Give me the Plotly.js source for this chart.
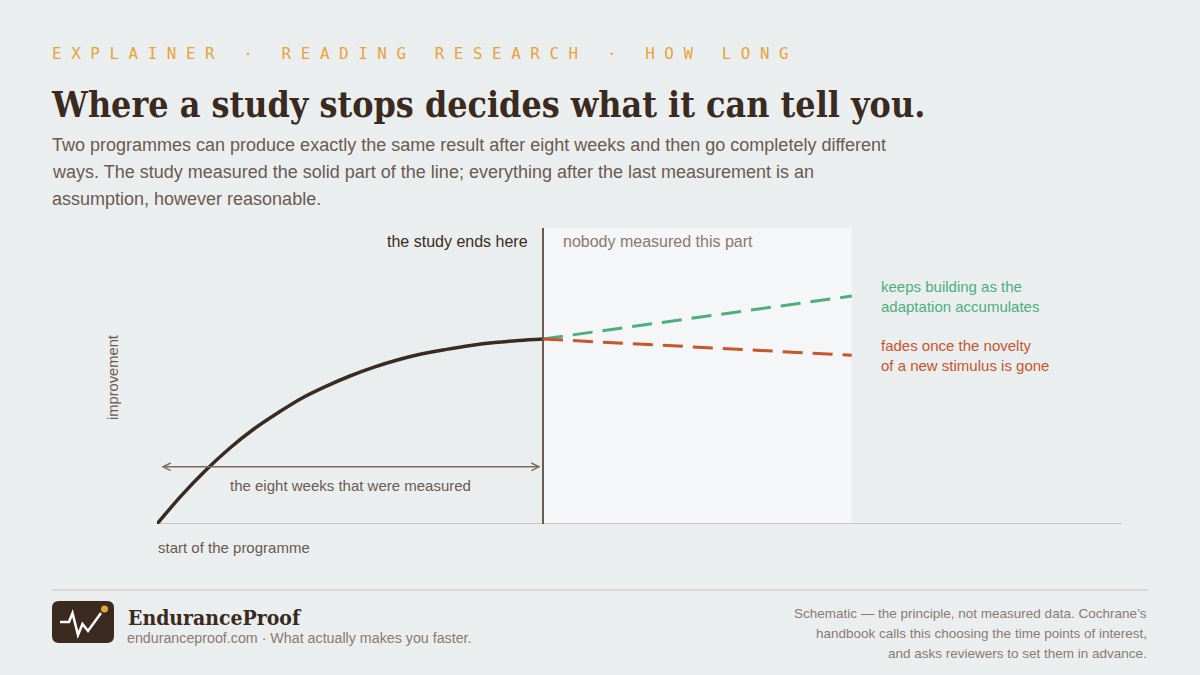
<!DOCTYPE html>
<html>
<head>
<meta charset="utf-8">
<script src="https://cdn.plot.ly/plotly-3.0.1.min.js"></script>
<style>
  html, body { margin: 0; padding: 0; background: #eaeeef; }
  #chart { width: 1200px; height: 675px; }
</style>
</head>
<body>
<div id="chart"></div>
<script>
// ---- data (schematic values) ----
const weeks = [0, 0.5, 1, 1.5, 2, 2.5, 3, 3.5, 4, 4.5, 5, 5.5, 6, 6.5, 7, 7.5, 8];
const measured = [0, 9.5, 18, 25.5, 32, 37.5, 42.5, 46.5, 50, 53, 55.5, 57.5, 59, 60.3, 61.3, 62, 62.5];
const projWeeks = [8, 14.4];
const keepsBuilding = [62.5, 77];
const fades = [62.5, 57];
const studyEnd = 8;
const unmeasuredEnd = 14.4;
const xRange = [0, 20];
const yRange = [0, 100];

const labels = {
  kicker: 'EXPLAINER · READING RESEARCH · HOW LONG',
  title: 'Where a study stops decides what it can tell you.',
  sub: [
    'Two programmes can produce exactly the same result after eight weeks and then go completely different',
    'ways. The study measured the solid part of the line; everything after the last measurement is an',
    'assumption, however reasonable.'
  ],
  ends: 'the study ends here',
  nobody: 'nobody measured this part',
  building: 'keeps building as the<br>adaptation accumulates',
  fading: 'fades once the novelty<br>of a new stimulus is gone',
  eight: 'the eight weeks that were measured',
  start: 'start of the programme',
  yTitle: 'improvement',
  brand: 'EnduranceProof',
  tagline: 'enduranceproof.com · What actually makes you faster.',
  note: [
    'Schematic — the principle, not measured data. Cochrane\u2019s',
    'handbook calls this choosing the time points of interest,',
    'and asks reviewers to set them in advance.'
  ]
};

// ---- layout geometry ----
const W = 1200, H = 675;
const M = { l: 157, r: 78, t: 228, b: 151 };
const PW = W - M.l - M.r, PH = H - M.t - M.b;
const px = x => (x - M.l) / PW;
const py = y => 1 - (y - M.t) / PH;

const SANS = 'Liberation Sans, Arial, sans-serif';
const SERIF = 'DejaVu Serif Condensed, DejaVu Serif, serif';
const MONO = 'DejaVu Sans Mono, monospace';
const MID = '#6b5a4e';
const LIGHT = '#8a7a6e';
const GREEN = '#4caf7d';
const RUST = '#c8552b';

const spaced = s => s.split('').join(' ');

const traces = [
  { x: weeks, y: measured, mode: 'lines', line: { color: '#3a2b22', width: 3.5, shape: 'spline' },
    cliponaxis: false, hoverinfo: 'skip' },
  { x: projWeeks, y: keepsBuilding, mode: 'lines', line: { color: GREEN, width: 3, dash: '20px,10px' }, hoverinfo: 'skip' },
  { x: projWeeks, y: fades, mode: 'lines', line: { color: RUST, width: 3, dash: '20px,10px' }, hoverinfo: 'skip' }
];

const shapes = [
  { type: 'rect', xref: 'x', yref: 'y', x0: studyEnd, x1: unmeasuredEnd, y0: yRange[0], y1: yRange[1],
    fillcolor: '#f4f6f7', line: { width: 0 }, layer: 'below' },
  { type: 'line', xref: 'x', yref: 'y', x0: xRange[0], x1: xRange[1], y0: 0, y1: 0,
    line: { color: '#cfc5b9', width: 2 }, layer: 'below' },
  { type: 'line', xref: 'x', yref: 'y', x0: studyEnd, x1: studyEnd, y0: 0, y1: yRange[1],
    line: { color: '#6b5a4e', width: 2 } },
  { type: 'line', xref: 'paper', yref: 'paper', x0: px(52), x1: px(1148), y0: py(590), y1: py(590),
    line: { color: '#d9d0c4', width: 1.5 } },
  { type: 'path', xref: 'paper', yref: 'paper', fillcolor: '#3b2a20', line: { width: 0 },
    path: (() => {
      const x0 = 52, x1 = 114, y0 = 601, y1 = 643, r = 7;
      const P = (x, y) => px(x) + ',' + py(y);
      return 'M' + P(x0 + r, y0) + ' L' + P(x1 - r, y0) + ' Q' + P(x1, y0) + ' ' + P(x1, y0 + r) +
        ' L' + P(x1, y1 - r) + ' Q' + P(x1, y1) + ' ' + P(x1 - r, y1) +
        ' L' + P(x0 + r, y1) + ' Q' + P(x0, y1) + ' ' + P(x0, y1 - r) +
        ' L' + P(x0, y0 + r) + ' Q' + P(x0, y0) + ' ' + P(x0 + r, y0) + ' Z';
    })() },
  { type: 'path', xref: 'paper', yref: 'paper', line: { color: '#ffffff', width: 2.5 },
    path: (() => {
      const pts = [[60, 622], [69, 622], [72.5, 613], [78, 635], [82.5, 624], [88, 631], [101, 613]];
      return pts.map((p, i) => (i ? 'L' : 'M') + px(p[0]) + ',' + py(p[1])).join(' ');
    })() },
  { type: 'circle', xref: 'paper', yref: 'paper', x0: px(101), x1: px(108), y0: py(605.5), y1: py(612.5),
    fillcolor: '#e8a33d', line: { width: 0 } }
];

const ann = (o) => Object.assign({ showarrow: false, xref: 'paper', yref: 'paper' }, o);

const annotations = [
  ann({ x: px(50), y: py(53), xanchor: 'left', yanchor: 'middle', text: spaced(labels.kicker),
        font: { family: MONO, size: 15.9, color: '#e8a33d' } }),
  ann({ x: px(49), y: py(104), xanchor: 'left', yanchor: 'middle', text: '<b>' + labels.title + '</b>',
        font: { family: SERIF, size: 35.5, color: '#3a2a20' } }),
  ...labels.sub.map((t, i) => ann({ x: px(50), y: py(145 + 27 * i), xanchor: 'left', yanchor: 'middle', text: t,
        font: { family: SANS, size: 18, color: MID } })),
  ann({ xref: 'x', yref: 'paper', x: studyEnd, xshift: -13, y: py(241), xanchor: 'right', yanchor: 'middle',
        text: labels.ends, font: { family: SANS, size: 16, color: '#3a2a20' } }),
  ann({ xref: 'x', yref: 'paper', x: studyEnd, xshift: 18, y: py(241), xanchor: 'left', yanchor: 'middle',
        text: labels.nobody, font: { family: SANS, size: 16, color: LIGHT } }),
  ann({ xref: 'x', yref: 'y', x: 15, xshift: -2, y: keepsBuilding[1], xanchor: 'left', yanchor: 'middle', align: 'left',
        text: labels.building, font: { family: SANS, size: 15, color: GREEN } }),
  ann({ xref: 'x', yref: 'y', x: 15, xshift: -2, y: fades[1], xanchor: 'left', yanchor: 'middle', align: 'left',
        text: labels.fading, font: { family: SANS, size: 15, color: RUST } }),
  { xref: 'x', yref: 'y', axref: 'x', ayref: 'y', x: 7.95, y: 19.3, ax: 0.06, ay: 19.3, text: '',
    showarrow: true, arrowside: 'end+start', arrowhead: 5, startarrowhead: 5, arrowsize: 1, startarrowsize: 1,
    arrowwidth: 1.5, arrowcolor: '#7a6a60', standoff: 0, startstandoff: 0 },
  ann({ x: px(350), y: py(485), xanchor: 'center', yanchor: 'middle',
        text: labels.eight, font: { family: SANS, size: 15, color: MID } }),
  ann({ x: px(156), y: py(547), xanchor: 'left', yanchor: 'middle', text: labels.start,
        font: { family: SANS, size: 15, color: MID } }),
  ann({ x: px(113), y: py(378), xanchor: 'center', yanchor: 'middle', textangle: -90, text: labels.yTitle,
        font: { family: SANS, size: 14.7, color: MID } }),
  ann({ x: px(126), y: py(617), xanchor: 'left', yanchor: 'middle', text: '<b>' + labels.brand + '</b>',
        font: { family: SERIF, size: 21, color: '#3a2a20' } }),
  ann({ x: px(125), y: py(638), xanchor: 'left', yanchor: 'middle', text: labels.tagline,
        font: { family: SANS, size: 14.25, color: LIGHT } }),
  ...labels.note.map((t, i) => ann({ x: px(1149), y: py(613 + 20 * i), xanchor: 'right', yanchor: 'middle', text: t,
        font: { family: SANS, size: 13.5, color: LIGHT } }))
];

const layout = {
  width: W, height: H,
  margin: M,
  paper_bgcolor: '#eaeeef',
  plot_bgcolor: 'rgba(0,0,0,0)',
  showlegend: false,
  xaxis: { range: xRange, visible: false, fixedrange: true },
  yaxis: { range: yRange, visible: false, fixedrange: true },
  shapes: shapes,
  annotations: annotations
};

Plotly.newPlot('chart', traces, layout, { staticPlot: true, displayModeBar: false });
</script>
</body>
</html>
